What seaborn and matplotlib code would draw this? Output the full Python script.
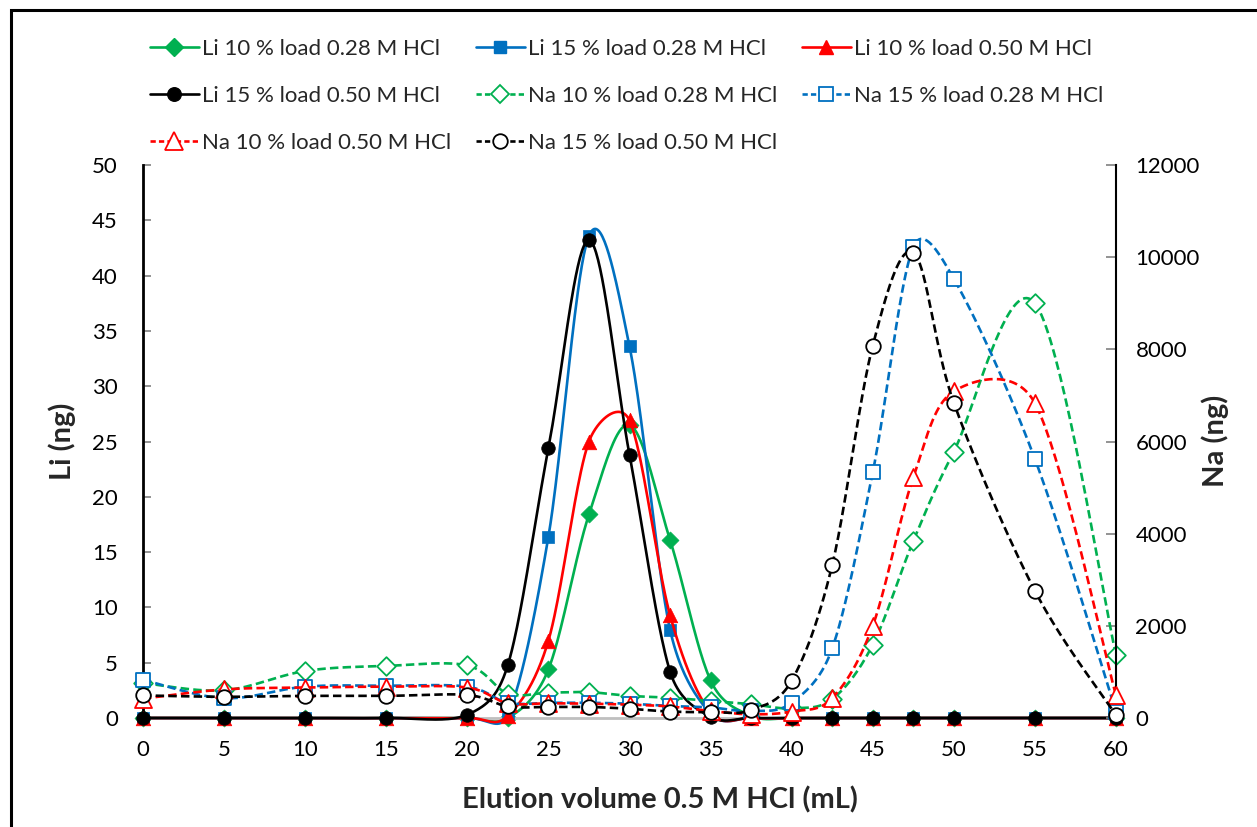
import numpy as np
import pandas as pd
import matplotlib
matplotlib.use("Agg")
import matplotlib.pyplot as plt
import seaborn as sns
from matplotlib.lines import Line2D
from matplotlib.patches import Rectangle

# ---------------- data ----------------
elution_ml = [0, 5, 10, 15, 20, 22.5, 25, 27.5, 30, 32.5, 35, 37.5, 40, 42.5, 45, 47.5, 50, 55, 60]

li_10_028 = [0, 0, 0, 0, 0, 0, 4.4, 18.4, 26.5, 16.1, 3.4, 0.2, 0, 0, 0, 0, 0, 0, 0]
li_15_028 = [0, 0, 0, 0, 0, 0.3, 16.4, 43.6, 33.6, 8.0, 0.4, 0, 0, 0, 0, 0, 0, 0, 0]
li_10_050 = [0, 0, 0, 0, 0, 0.2, 7.0, 25.0, 26.9, 9.3, 0.5, 0, 0, 0, 0, 0, 0, 0, 0]
li_15_050 = [0, 0, 0, 0, 0.3, 4.8, 24.4, 43.2, 23.8, 4.2, 0.1, 0, 0, 0, 0, 0, 0, 0, 0]

na_10_028 = [760, 600, 1020, 1130, 1140, 530, 550, 560, 480, 440, 370, 300, 210, 410, 1590, 3840, 5780, 9000, 1370]
na_15_028 = [830, 430, 680, 700, 680, 330, 330, 330, 310, 260, 230, 150, 330, 1510, 5330, 10220, 9530, 5620, 140]
na_10_050 = [420, 620, 660, 680, 660, 320, 320, 310, 290, 250, 150, 80, 140, 430, 2000, 5220, 7090, 6830, 490]
na_15_050 = [490, 460, 480, 480, 500, 250, 240, 240, 200, 140, 130, 170, 810, 3320, 8080, 10100, 6840, 2760, 60]

labels_li = ["Li 10 % load 0.28 M HCl", "Li 15 % load 0.28 M HCl",
             "Li 10 % load 0.50 M HCl", "Li 15 % load 0.50 M HCl"]
labels_na = ["Na 10 % load 0.28 M HCl", "Na 15 % load 0.28 M HCl",
             "Na 10 % load 0.50 M HCl", "Na 15 % load 0.50 M HCl"]

x_ticks = [0, 5, 10, 15, 20, 25, 30, 35, 40, 45, 50, 55, 60]
li_ticks = [0, 5, 10, 15, 20, 25, 30, 35, 40, 45, 50]
na_ticks = [0, 2000, 4000, 6000, 8000, 10000, 12000]

x_label = "Elution volume 0.5 M HCl (mL)"
li_label = "Li (ng)"
na_label = "Na (ng)"

# ---------------- style ----------------
colors = ["#00B050", "#0070C0", "#FF0000", "#000000"]
markers = ["D", "s", "^", "o"]
li_sizes = [75, 85, 110, 95]
na_sizes = [90, 95, 150, 110]

sns.set_theme(style="white")
plt.rcParams["font.family"] = ["Lato", "DejaVu Sans"]
FS = 16

W, H = 1257, 827
AX_L, AX_R, AX_T, AX_B = 143, 1116, 165, 718
XMAX, LIMAX, NAMAX = 60.0, 50.0, 12000.0


def excel_smooth(xs, ys, sx, sy, n=40):
    """Bezier smoothing similar to a spreadsheet 'smoothed line'.
    sx, sy: pixel per data unit (used to cap the handle lengths)."""
    P = np.column_stack([np.asarray(xs, float) * sx, np.asarray(ys, float) * sy])
    m = len(P)
    out = []
    for i in range(m - 1):
        p0 = P[i - 1] if i > 0 else P[i]
        p1 = P[i]
        p2 = P[i + 1]
        p3 = P[i + 2] if i + 2 < m else P[i + 1]
        d12 = np.linalg.norm(p2 - p1)
        v1 = (p2 - p0) / 6.0
        v2 = (p3 - p1) / 6.0
        for v in (v1, v2):
            L = np.linalg.norm(v)
            if L > d12 / 2 and L > 0:
                v *= (d12 / 2) / L
        c1 = p1 + v1
        c2 = p2 - v2
        t = np.linspace(0, 1, n, endpoint=(i == m - 2))[:, None]
        seg = ((1 - t) ** 3) * p1 + 3 * ((1 - t) ** 2) * t * c1 + 3 * (1 - t) * t ** 2 * c2 + t ** 3 * p2
        out.append(seg)
    out = np.vstack(out)
    return out[:, 0] / sx, out[:, 1] / sy


fig = plt.figure(figsize=(W / 100, H / 100), dpi=100)
fig.patch.set_facecolor("white")
ax = fig.add_axes([AX_L / W, 1 - AX_B / H, (AX_R - AX_L) / W, (AX_B - AX_T) / H])
ax2 = ax.twinx()

px_x = (AX_R - AX_L) / XMAX
px_li = (AX_B - AX_T) / LIMAX
px_na = (AX_B - AX_T) / NAMAX

li_series = [li_10_028, li_15_028, li_10_050, li_15_050]
na_series = [na_10_028, na_15_028, na_10_050, na_15_050]

LW = 1.9
dash = (3.2, 1.6)

for k, ys in enumerate(li_series):
    sxv, syv = excel_smooth(elution_ml, ys, px_x, px_li)
    sns.lineplot(x=sxv, y=syv, sort=False, estimator=None, color=colors[k], lw=LW,
                 ax=ax, zorder=2 + k, clip_on=False)
    sns.scatterplot(x=elution_ml, y=ys, marker=markers[k], s=li_sizes[k], color=colors[k],
                    edgecolor=colors[k], linewidth=0.5, ax=ax, zorder=2.5 + k, clip_on=False)

for k, ys in enumerate(na_series):
    sxv, syv = excel_smooth(elution_ml, ys, px_x, px_na)
    sns.lineplot(x=sxv, y=syv, sort=False, estimator=None, color=colors[k], lw=LW,
                 ax=ax2, zorder=2 + k, clip_on=False)
    ax2.lines[-1].set_dashes(dash)
    sns.scatterplot(x=elution_ml, y=ys, marker=markers[k], s=na_sizes[k], color="white",
                    edgecolor=colors[k], linewidth=1.3, ax=ax2, zorder=2.5 + k, clip_on=False)

# axes limits & ticks
ax.set_xlim(0, XMAX)
ax.set_ylim(0, LIMAX)
ax2.set_ylim(0, NAMAX)
ax.set_xticks(x_ticks)
ax.set_yticks(li_ticks)
ax2.set_yticks(na_ticks)
ax.set_xticklabels([str(v) for v in x_ticks], fontsize=FS)
ax.set_yticklabels([str(v) for v in li_ticks], fontsize=FS)
ax2.set_yticklabels([str(v) for v in na_ticks], fontsize=FS)
ax.grid(False)
ax2.grid(False)

ax.tick_params(axis="x", length=0, pad=16, colors="black")
ax.tick_params(axis="y", direction="in", length=6, width=1.2, color="#808080", pad=18, labelcolor="black")
ax2.tick_params(axis="y", direction="in", length=7, width=1.2, color="#808080", pad=14, labelcolor="black")

for a in (ax, ax2):
    a.spines["top"].set_visible(False)
    a.patch.set_visible(False)
ax.spines["left"].set_color("black")
ax.spines["left"].set_linewidth(2.0)
ax.spines["right"].set_visible(False)
ax2.spines["left"].set_visible(False)
ax2.spines["bottom"].set_visible(False)
ax2.spines["right"].set_color("black")
ax2.spines["right"].set_linewidth(1.5)
ax.spines["bottom"].set_color("#BFBFBF")
ax.spines["bottom"].set_linewidth(2.0)

ax.set_xlabel("")
ax.set_ylabel("")
ax2.set_ylabel("")
fig.text(660 / W, 1 - 800 / H, x_label, ha="center", va="center", fontsize=21, fontweight="bold")
fig.text(62 / W, 1 - 441 / H, li_label, ha="center", va="center", fontsize=21, fontweight="bold", rotation=90)
fig.text(1215 / W, 1 - 441 / H, na_label, ha="center", va="center", fontsize=21, fontweight="bold", rotation=90)

# legend (row-major order like the reference -> reorder for column filling)
li_handles = []
na_handles = []
for k in range(4):
    li_handles.append(Line2D([], [], color=colors[k], lw=LW, marker=markers[k],
                             markersize=np.sqrt(li_sizes[k]), markerfacecolor=colors[k],
                             markeredgecolor=colors[k]))
for k in range(4):
    h = Line2D([], [], color=colors[k], lw=LW, marker=markers[k],
               markersize=np.sqrt(na_sizes[k]), markerfacecolor="white",
               markeredgecolor=colors[k], markeredgewidth=1.3)
    h.set_dashes((2.0, 1.2))
    na_handles.append(h)

row_major_h = li_handles + na_handles
row_major_l = labels_li + labels_na
order = [0, 3, 6, 1, 4, 7, 2, 5]
handles = [row_major_h[i] for i in order]
labels = [row_major_l[i] for i in order]

leg = fig.legend(handles, labels, ncol=3, loc="upper left",
                 bbox_to_anchor=(150 / W, 1 - 39 / H), frameon=False, fontsize=FS,
                 handlelength=2.2, handletextpad=0.15, columnspacing=1.1,
                 labelspacing=1.22, borderpad=0, borderaxespad=0)

# outer chart border (extends beyond right/bottom edges)
fig.patches.append(Rectangle((11 / W, -0.2), 1.5, 1.2 - 10 / H, transform=fig.transFigure,
                             fill=False, lw=2.2, edgecolor="black", zorder=10))

fig.savefig("out.png", dpi=100)
